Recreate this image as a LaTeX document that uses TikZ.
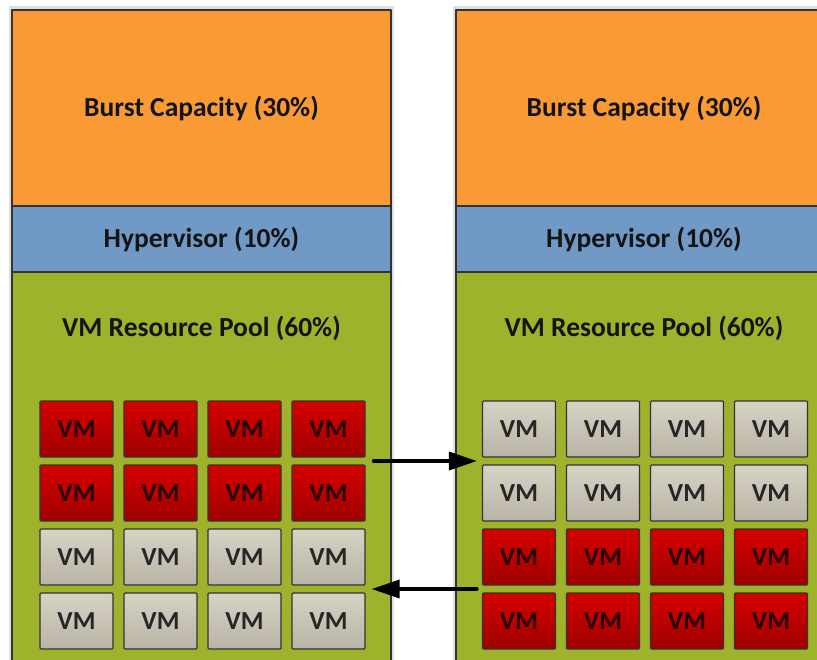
\documentclass[tikz,border=0pt]{standalone}
\usepackage{fontspec}
\setmainfont{Carlito}
\usepackage{xcolor}
\usepackage{tikz}
\usetikzlibrary{arrows.meta,calc}
\definecolor{burstorange}{HTML}{F99A35}
\definecolor{hyperblue}{HTML}{7199C6}
\definecolor{poolgreen}{HTML}{9FB22C}
\definecolor{vmredA}{HTML}{D60000}
\definecolor{vmredB}{HTML}{9E0000}
\definecolor{vmgrayA}{HTML}{D6D2C5}
\definecolor{vmgrayB}{HTML}{B9B4A5}
\definecolor{edgedark}{HTML}{333333}
\tikzset{
  layertext/.style={font=\bfseries\fontsize{27.5}{32}\selectfont,text=black!92},
  vmbox/.style={draw=edgedark,line width=1.2pt,minimum width=73pt,minimum height=56pt,inner sep=0pt,rounded corners=1pt,font=\bfseries\fontsize{26}{30}\selectfont},
  vmbusy/.style={vmbox,top color=vmredA,bottom color=vmredB,text=black!85!red},
  vmidle/.style={vmbox,top color=vmgrayA,bottom color=vmgrayB,text=black!85},
  migrate/.style={->,line width=3.5pt}
}
\begin{document}
\begin{tikzpicture}[x=1pt,y=-1pt,line cap=round,line join=round,>={Triangle[length=28pt,width=18pt]}]
\useasboundingbox (0,0) rectangle (817,660);
\clip (0,0) rectangle (817,660);
% shadows
\fill [gray!25] (9,6) rectangle (394,700);
\fill [gray!25] (453,6) rectangle (838,700);
% left column
\draw [line width=1.2pt,draw=edgedark,fill=burstorange] (12,10) rectangle (391,206);
\draw [line width=1.2pt,draw=edgedark,fill=hyperblue] (12,206) rectangle (391,272);
\draw [line width=1.2pt,draw=edgedark,fill=poolgreen] (12,272) rectangle (391,700);
\node [layertext] (Lburst) at (201.5,108) {Burst Capacity (30\%)};
\node [layertext] (Lhyper) at (201.5,239) {Hypervisor (10\%)};
\node [layertext] (Lpool) at (201.5,328) {VM Resource Pool (60\%)};
% right column
\draw [line width=1.2pt,draw=edgedark,fill=burstorange] (456,10) rectangle (835,206);
\draw [line width=1.2pt,draw=edgedark,fill=hyperblue] (456,206) rectangle (835,272);
\draw [line width=1.2pt,draw=edgedark,fill=poolgreen] (456,272) rectangle (835,700);
\node [layertext] (Rburst) at (644,108) {Burst Capacity (30\%)};
\node [layertext] (Rhyper) at (644,239) {Hypervisor (10\%)};
\node [layertext] (Rpool) at (644,328) {VM Resource Pool (60\%)};
% left VMs
\node [vmbusy] (L11) at (76.5,429) {VM};
\node [vmbusy] (L12) at (160.5,429) {VM};
\node [vmbusy] (L13) at (244.5,429) {VM};
\node [vmbusy] (L14) at (328.5,429) {VM};
\node [vmbusy] (L21) at (76.5,493) {VM};
\node [vmbusy] (L22) at (160.5,493) {VM};
\node [vmbusy] (L23) at (244.5,493) {VM};
\node [vmbusy] (L24) at (328.5,493) {VM};
\node [vmidle] (L31) at (76.5,557) {VM};
\node [vmidle] (L32) at (160.5,557) {VM};
\node [vmidle] (L33) at (244.5,557) {VM};
\node [vmidle] (L34) at (328.5,557) {VM};
\node [vmidle] (L41) at (76.5,621) {VM};
\node [vmidle] (L42) at (160.5,621) {VM};
\node [vmidle] (L43) at (244.5,621) {VM};
\node [vmidle] (L44) at (328.5,621) {VM};
% right VMs
\node [vmidle] (R11) at (519,429) {VM};
\node [vmidle] (R12) at (603,429) {VM};
\node [vmidle] (R13) at (687,429) {VM};
\node [vmidle] (R14) at (771,429) {VM};
\node [vmidle] (R21) at (519,493) {VM};
\node [vmidle] (R22) at (603,493) {VM};
\node [vmidle] (R23) at (687,493) {VM};
\node [vmidle] (R24) at (771,493) {VM};
\node [vmbusy] (R31) at (519,557) {VM};
\node [vmbusy] (R32) at (603,557) {VM};
\node [vmbusy] (R33) at (687,557) {VM};
\node [vmbusy] (R34) at (771,557) {VM};
\node [vmbusy] (R41) at (519,621) {VM};
\node [vmbusy] (R42) at (603,621) {VM};
\node [vmbusy] (R43) at (687,621) {VM};
\node [vmbusy] (R44) at (771,621) {VM};
% migration arrows
\coordinate (outL) at ($($(L14.south east)!.5!(L24.north east)$)+(8,0)$);
\coordinate (inR) at ($($(R11.south west)!.5!(R21.north west)$)+(-5,0)$);
\coordinate (outR) at ($($(R31.south west)!.5!(R41.north west)$)+(-5,0)$);
\coordinate (inL) at ($($(L34.south east)!.5!(L44.north east)$)+(6,0)$);
\draw [migrate] (outL) -- (inR);
\draw [migrate] (outR) -- (inL);
\end{tikzpicture}
\end{document}
